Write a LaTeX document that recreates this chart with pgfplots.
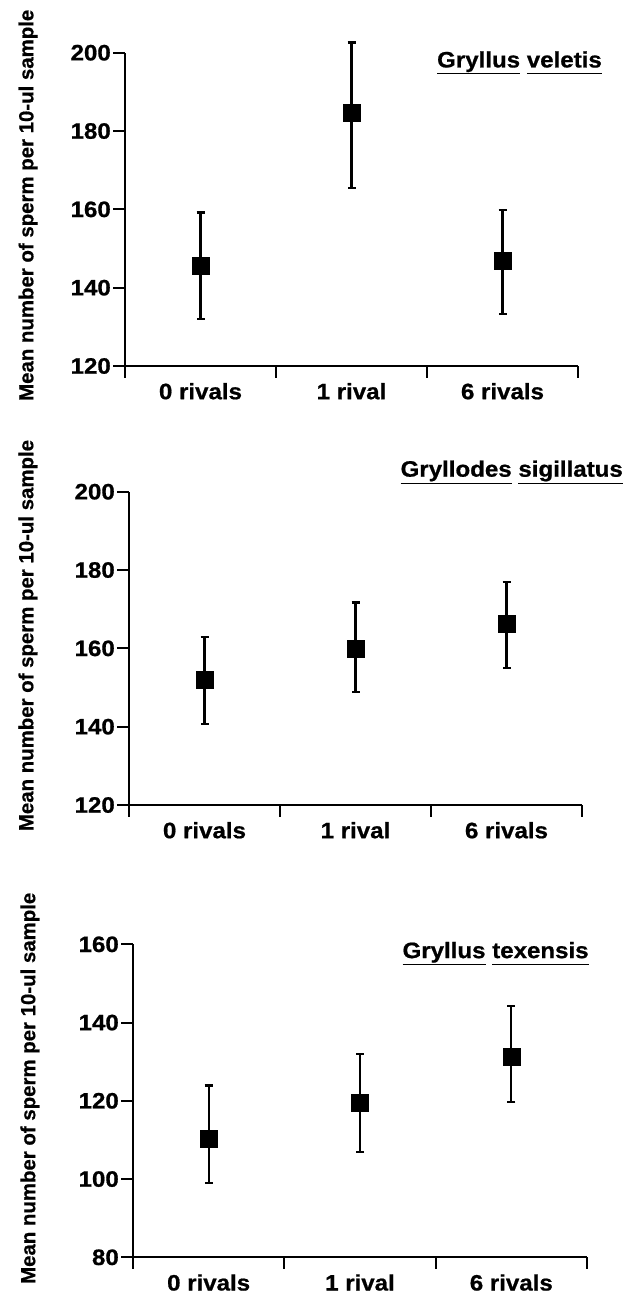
\documentclass[border=0pt]{standalone}
\usepackage{fontspec}
\setmainfont{Liberation Sans}[BoldFeatures={FakeBold=0.6}]
\newfontfamily\widefont{Liberation Sans}[FakeStretch=1.08, BoldFeatures={FakeBold=0.8}]
\usepackage{pgfplots}
\pgfplotsset{compat=1.18}
\newcommand\ul[1]{\underline{#1\vphantom{y}}}
\pgfplotsset{
 panel/.style={
  scale only axis, width=453pt, height=313.3pt, anchor=south west,
  axis x line*=bottom, axis y line*=left,
  axis line style={line width=2pt, -},
  xmin=0, xmax=3, xtick={0,1,2,3}, xticklabels={},
  extra x ticks={0.5,1.5,2.5}, extra x tick labels={0 rivals,1 rival,6 rivals},
  extra x tick style={tick style={draw=none}},
  tick align=outside, major tick length=11.5pt,
  tick style={line width=2pt, black},
  ticklabel style={font=\widefont\bfseries\fontsize{22.3}{26}\selectfont},
  yticklabel style={inner sep=2.5pt},
  xticklabel style={yshift=-2pt},
  /pgf/number format/assume math mode=true,
  ylabel={Mean number of sperm per 10-ul sample},
  every axis y label/.style={at={(axis description cs:-0.214,0.513)}, rotate=90, anchor=center, font=\bfseries\fontsize{20.4}{24}\selectfont},
  clip=false,
 },
 pts/.style={black, only marks, mark=square*, mark size=8.5pt,
   mark options={fill=black, draw=black, line width=0.4pt},
   error bars/.cd, y dir=both, y explicit,
   error bar style={line width=2.2pt, black},
   error mark options={rotate=90, mark size=4pt, line width=2.2pt, black}},
}
\tikzset{ttl/.style={anchor=base east, font=\widefont\bfseries\fontsize{22.3}{26}\selectfont, inner sep=0pt}}
\begin{document}
\begin{tikzpicture}
\path[use as bounding box] (0,0) rectangle (626pt,-1295pt);
% Panel 1: Gryllus veletis
\begin{axis}[panel, at={(125pt,-366pt)}, ymin=120, ymax=200, ytick={120,140,...,200}]
\addplot[pts] coordinates {
 (0.5,145.6) += (0,13.6) -= (0,13.6)
 (1.5,184.8) += (0,17.8) -= (0,19.4)
 (2.5,146.8) += (0,13.0) -= (0,13.5)
};
\node[ttl] at (rel axis cs:1.053,0.953) {\ul{Gryllus} \ul{veletis}};
\end{axis}
% Panel 2: Gryllodes sigillatus
\begin{axis}[panel, at={(129pt,-805pt)}, ymin=120, ymax=200, ytick={120,140,...,200},
  every axis y label/.append style={at={(axis description cs:-0.223,0.541)}}]
\addplot[pts] coordinates {
 (0.5,151.9) += (0,11.1) -= (0,11.3)
 (1.5,160.0) += (0,11.7) -= (0,11.2)
 (2.5,166.2) += (0,10.7) -= (0,11.2)
};
\node[ttl] at (rel axis cs:1.0905,1.048) {\ul{Gryllodes} \ul{sigillatus}};
\end{axis}
% Panel 3: Gryllus texensis
\begin{axis}[panel, at={(133pt,-1257.3pt)}, width=454pt, height=313pt, ymin=80, ymax=160, ytick={80,100,...,160},
  every axis y label/.append style={at={(axis description cs:-0.227,0.54)}}]
\addplot[pts] coordinates {
 (0.5,110.2) += (0,13.7) -= (0,11.3)
 (1.5,119.4) += (0,12.5) -= (0,12.5)
 (2.5,131.2) += (0,13.1) -= (0,11.6)
};
\node[ttl] at (rel axis cs:1.004,0.956) {\ul{Gryllus} \ul{texensis}};
\end{axis}
\end{tikzpicture}
\end{document}
